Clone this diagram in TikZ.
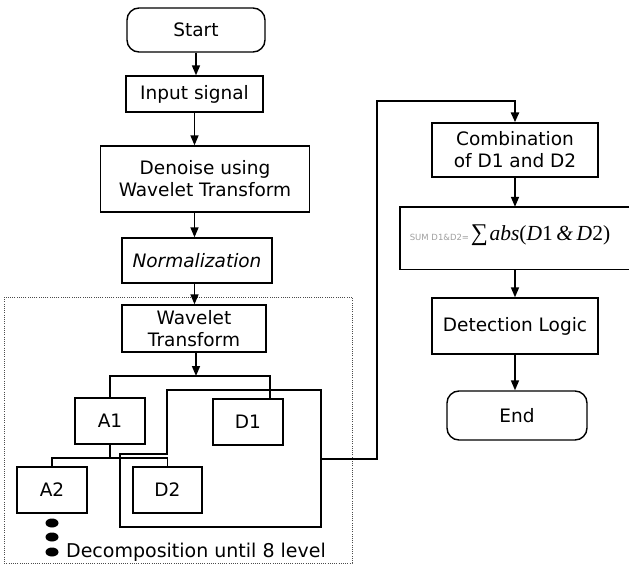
\documentclass[tikz,border=0pt]{standalone}
\usepackage{fontspec}
\newfontfamily\dv{DejaVu Sans}
\newfontfamily\ls{Liberation Serif}
\usetikzlibrary{arrows.meta}
\begin{document}
\begin{tikzpicture}[x=1pt,y=-1pt,
 box/.style={draw, line width=1.4pt, inner sep=0pt, align=center, font=\dv\fontsize{18.5}{22}\selectfont},
 rbox/.style={box, rounded corners=12pt},
 arr/.style={line width=1.6pt, -{Triangle[length=10pt,width=8pt]}},
 ln/.style={line width=1.4pt},
 heavy/.style={line width=2.6pt},
 txt/.style={inner sep=0pt, font=\dv\fontsize{19}{22}\selectfont}]
\useasboundingbox (0,0) rectangle (633,568);
% left column
\node[rbox, minimum width=138pt, minimum height=44pt] (start) at (196,30) {Start};
\node[box, minimum width=137pt, minimum height=36pt] (input) at (194.5,94) {Input signal};
\node[box, minimum width=209pt, minimum height=66pt] (denoise) at (205,179) {Denoise using\\Wavelet Transform};
\node[box, minimum width=150pt, minimum height=45pt] (norm) at (197,260.5) {\itshape Normalization};
\node[box, minimum width=144pt, minimum height=47pt] (wave) at (194,328.5) {Wavelet\\Transform};
% dotted frame
\draw[line width=1pt, gray!60!black, dash pattern={on 1pt off 1.2pt}] (4,297) rectangle (352,563);
% decomposition
\node[box, minimum width=70pt, minimum height=46pt] (A1) at (110,421) {A1};
\node[box, minimum width=70pt, minimum height=46pt] (D1) at (248,422) {D1};
\node[box, minimum width=70pt, minimum height=46pt] (A2) at (52,490) {A2};
\node[box, minimum width=69pt, minimum height=46pt] (D2) at (167.5,490) {D2};
\node[txt] (decomp) at (196,552) {Decomposition until 8 level};
\fill (52,523) ellipse (6.5pt and 4.5pt);
\fill (52,537) ellipse (6.5pt and 4.5pt);
\fill (52,552) ellipse (6.5pt and 4.5pt);
% thick frame around D1 and D2
\draw[heavy] (120,454) -- (167,454) -- (167,390) -- (321,390) -- (321,527) -- (120,527) -- cycle;
% right column
\node[box, minimum width=166pt, minimum height=54pt] (comb) at (515,150) {Combination\\of D1 and D2};
\node[inner sep=0pt, minimum width=229pt, minimum height=62pt] (sum) at (514.5,238) {};
\draw[ln] (sum.north east) -- (sum.north west) -- (sum.south west) -- (sum.south east);
\node[inner sep=0pt] (sumtxt) at (510,235) {{\dv\fontsize{8.5}{9}\selectfont\color{gray!75}SUM D1\&D2=}\,{\ls\fontsize{24}{26}\selectfont ∑}\,{\ls\fontsize{21.5}{24}\selectfont\itshape abs\upshape(\itshape D\upshape1\itshape\,\&\,D\upshape2)}};
\node[box, minimum width=166pt, minimum height=56pt] (det) at (515,326) {Detection Logic};
\node[rbox, minimum width=140pt, minimum height=49pt] (end) at (517,415.5) {End};
% main column arrows
\draw[arr] (start.south) -- (start.south |- input.north);
\draw[arr] (input.south) -- (input.south |- denoise.north);
\draw[arr] (input.south |- denoise.south) -- (input.south |- norm.north);
\draw[arr] (input.south |- norm.south) -- (input.south |- wave.north);
\coordinate (split) at (196,376);
\draw[arr] (split |- wave.south) -- (split);
\draw[ln] (A1.north) |- (split) -| ([xshift=22pt]D1.north);
\coordinate (j2) at (110,458);
\draw[ln] (A1.south) -- (j2);
\draw[ln] (A2.north) |- (j2) -| (D2.north);
% thick connector to combination
\coordinate (tr) at (321,459);
\coordinate (bend) at (377,101);
\draw[heavy, -{Triangle[length=10pt,width=8pt]}] (tr) -| (bend) -| (comb.north);
% right column arrows
\draw[arr] (comb.south) -- (comb.south |- sum.north);
\draw[arr] (comb.south |- sum.south) -- (det.north);
\draw[arr] (det.south) -- (det.south |- end.north);
\end{tikzpicture}
\end{document}
